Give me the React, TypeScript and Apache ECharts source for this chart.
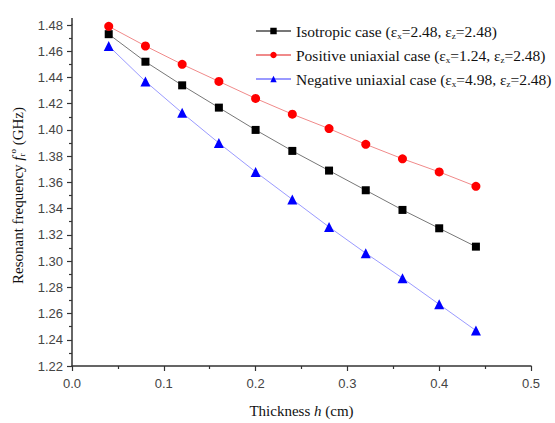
import React, { useEffect, useRef } from "react";
import * as echarts from "echarts";

const thickness = [0.04, 0.08, 0.12, 0.16, 0.2, 0.24, 0.28, 0.32, 0.36, 0.4, 0.44];
const isotropic = [1.473, 1.452, 1.434, 1.417, 1.4, 1.384, 1.369, 1.354, 1.339, 1.325, 1.311];
const positive = [1.479, 1.464, 1.45, 1.437, 1.424, 1.412, 1.401, 1.389, 1.378, 1.368, 1.357];
const negative = [1.464, 1.437, 1.413, 1.39, 1.368, 1.347, 1.326, 1.306, 1.287, 1.267, 1.247];

const seriesNames = [
  "Isotropic case (εx=2.48, εz=2.48)",
  "Positive uniaxial case (εx=1.24, εz=2.48)",
  "Negative uniaxial case (εx=4.98, εz=2.48)",
];
const legendRich = [
  "Isotropic case (ε{sub|x}=2.48, ε{sub|z}=2.48)",
  "Positive uniaxial case (ε{sub|x}=1.24, ε{sub|z}=2.48)",
  "Negative uniaxial case (ε{sub|x}=4.98, ε{sub|z}=2.48)",
];

const serif = "'Liberation Serif', 'Times New Roman', serif";
const sans = "'Liberation Sans', Arial, sans-serif";
const axisColor = "#333";

export default function App() {
  const ref = useRef<HTMLDivElement>(null);
  useEffect(() => {
    const chart = echarts.init(ref.current!, undefined, { renderer: "svg" });
    const mk = (vals: number[]) => thickness.map((t, i) => [t, vals[i]]);
    chart.setOption({
      animation: false,
      backgroundColor: "#fff",
      grid: { left: 72, right: 24, top: 25, bottom: 51 },
      graphic: [
        {
          type: "line",
          shape: { x1: 72, y1: 25, x2: 72, y2: 18 },
          style: { stroke: axisColor, lineWidth: 1.5 },
        },
      ],
      legend: {
        orient: "vertical",
        left: 250,
        top: 17,
        itemGap: 6,
        itemWidth: 35,
        itemHeight: 8,
        data: seriesNames,
        formatter: (name: string) => legendRich[seriesNames.indexOf(name)],
        textStyle: {
          fontFamily: serif,
          fontSize: 15.5,
          color: "#111",
          lineHeight: 18,
          rich: {
            sub: { fontFamily: serif, fontSize: 9, lineHeight: 9, verticalAlign: "bottom", color: "#111" },
          },
        },
      },
      xAxis: {
        type: "value",
        min: 0,
        max: 0.5,
        interval: 0.1,
        name: "Thickness {i|h} (cm)",
        nameLocation: "middle",
        nameGap: 37,
        nameTextStyle: {
          fontFamily: serif,
          fontSize: 15,
          color: "#111",
          rich: { i: { fontFamily: serif, fontStyle: "italic", fontSize: 15, color: "#111" } },
        },
        axisLine: { show: true, lineStyle: { color: axisColor, width: 1.5 } },
        axisTick: { show: true, length: 5, lineStyle: { color: axisColor, width: 1.2 } },
        minorTick: { show: true, splitNumber: 2, length: 3, lineStyle: { color: axisColor, width: 1.2 } },
        splitLine: { show: false },
        axisLabel: {
          fontFamily: sans,
          fontSize: 13,
          color: "#444",
          margin: 11,
          formatter: (v: number) => v.toFixed(1),
        },
      },
      yAxis: {
        type: "value",
        min: 1.22,
        max: 1.48,
        interval: 0.02,
        name: "Resonant frequency {i|f}{sub|r}{sup|o} (GHz)",
        nameLocation: "middle",
        nameGap: 43,
        nameRotate: 90,
        nameTextStyle: {
          fontFamily: serif,
          fontSize: 15,
          color: "#111",
          lineHeight: 18,
          rich: {
            i: { fontFamily: serif, fontStyle: "italic", fontSize: 15, color: "#111", lineHeight: 18 },
            sub: { fontFamily: serif, fontSize: 9, lineHeight: 9, verticalAlign: "bottom", color: "#111" },
            sup: { fontFamily: serif, fontSize: 9, lineHeight: 9, verticalAlign: "top", color: "#111" },
          },
        },
        axisLine: { show: true, lineStyle: { color: axisColor, width: 1.5 } },
        axisTick: { show: true, length: 5, lineStyle: { color: axisColor, width: 1.2 } },
        minorTick: { show: true, splitNumber: 2, length: 3, lineStyle: { color: axisColor, width: 1.2 } },
        splitLine: { show: false },
        axisLabel: {
          fontFamily: sans,
          fontSize: 13,
          color: "#444",
          margin: 9,
          formatter: (v: number) => v.toFixed(2),
        },
      },
      series: [
        {
          name: seriesNames[0],
          type: "line",
          data: mk(isotropic),
          symbol: "rect",
          symbolSize: 8,
          itemStyle: { color: "#000" },
          lineStyle: { color: "#777", width: 1 },
        },
        {
          name: seriesNames[1],
          type: "line",
          data: mk(positive),
          symbol: "circle",
          symbolSize: 9,
          itemStyle: { color: "#ff0000" },
          lineStyle: { color: "#f08a8a", width: 1 },
        },
        {
          name: seriesNames[2],
          type: "line",
          data: mk(negative),
          symbol: "triangle",
          symbolSize: 10,
          itemStyle: { color: "#0000ff" },
          lineStyle: { color: "#9a9aff", width: 1 },
        },
      ],
    });
    return () => chart.dispose();
  }, []);
  return <div ref={ref} style={{ width: 555, height: 423, position: "absolute", left: 0, top: 0 }} />;
}
